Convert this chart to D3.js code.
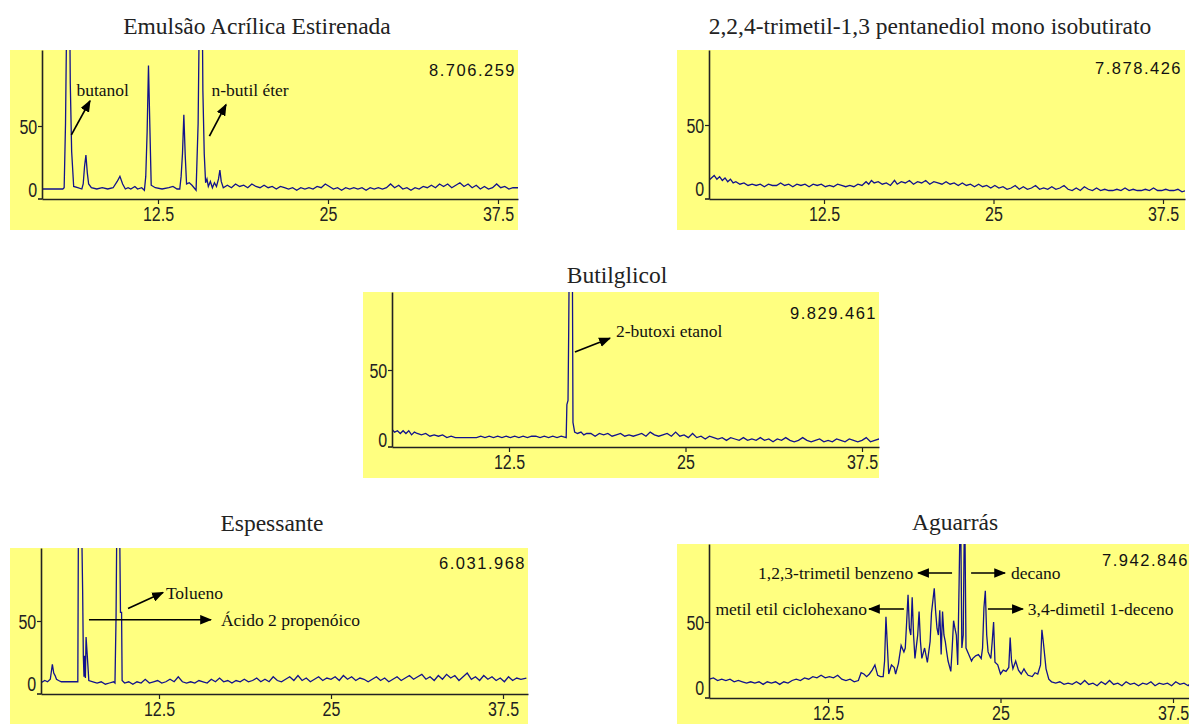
<!DOCTYPE html>
<html><head><meta charset="utf-8">
<script src="https://cdn.jsdelivr.net/npm/d3@7"></script>
<style>body{margin:0;background:#fff;} svg{display:block;}</style>
</head><body>
<svg id="c" width="1189" height="724"></svg>
<script>
// ---------- DATA ----------
const xTicks = [12.5, 25, 37.5];
const yTicks = [0, 50];
const titles = ["Emulsão Acrílica Estirenada", "2,2,4-trimetil-1,3 pentanediol mono isobutirato", "Butilglicol", "Espessante", "Aguarrás"];
const totals = ["8.706.259", "7.878.426", "9.829.461", "6.031.968", "7.942.846"];

// [retention time (min), relative abundance]
const emulsao = [[4.0,0],[4.5,0],[5.0,0],[5.5,0],[5.6,1],[5.7,52],[5.8,150],[6.0,150],[6.05,84],[6.15,30],[6.3,2],[6.6,1],[6.9,0],[7.0,4],[7.1,18],[7.2,27],[7.3,13],[7.4,4],[7.6,1],[8.0,0],[8.4,1],[8.8,0],[9.2,1],[9.5,6],[9.7,10],[9.9,4],[10.1,0],[10.3,1],[10.5,0],[10.8,2],[11.0,0],[11.3,1],[11.5,-1],[11.6,10],[11.7,45],[11.8,98],[11.9,50],[12.0,3],[12.3,1],[12.8,0],[13.3,1],[13.6,2],[13.9,0],[14.1,0],[14.2,10],[14.3,28],[14.4,59],[14.5,27],[14.6,4],[14.8,5],[15.0,3],[15.3,-1],[15.45,52],[15.55,150],[15.75,150],[15.8,78],[15.9,28],[16.0,5],[16.1,8],[16.2,2],[16.35,6],[16.5,1],[16.65,5],[16.8,2],[16.95,8],[17.05,15],[17.15,6],[17.3,1],[17.6,3],[17.9,1],[18.2,4],[18.5,2],[18.8,3],[19.1,1],[19.4,4],[19.7,2],[20.0,1],[20.3,3],[20.6,1],[20.9,2],[21.2,0],[21.5,2],[21.8,1],[22.1,0],[22.4,1],[22.7,-1],[23.0,1],[23.3,0],[23.6,1],[23.9,0],[24.2,2],[24.5,1],[24.8,4],[25.1,2],[25.4,0],[25.7,1],[26.0,-1],[26.3,1],[26.6,0],[26.9,1],[27.2,0],[27.5,1],[27.8,-1],[28.1,1],[28.4,0],[28.7,1],[29.0,0],[29.3,1],[29.6,4],[29.9,1],[30.2,3],[30.5,0],[30.8,1],[31.1,-1],[31.4,1],[31.7,0],[32.0,2],[32.3,1],[32.6,3],[32.9,1],[33.2,4],[33.5,2],[33.8,4],[34.1,1],[34.4,3],[34.7,5],[35.0,2],[35.3,4],[35.6,1],[35.9,3],[36.2,0],[36.5,2],[36.8,0],[37.1,1],[37.4,4],[37.7,1],[38.0,2],[38.3,0],[38.6,1],[39.1,1]];

const trimetil = [[4.0,6],[4.2,8],[4.4,10],[4.6,7],[4.8,9],[5.0,6],[5.2,8],[5.4,5],[5.6,7],[5.8,4],[6.0,5],[6.3,3],[6.6,4],[6.9,2],[7.2,3],[7.5,2],[7.8,3],[8.1,1],[8.4,3],[8.7,2],[9.0,2],[9.3,4],[9.6,2],[9.9,3],[10.2,1],[10.5,3],[10.8,2],[11.1,3],[11.4,1],[11.7,3],[12.0,2],[12.3,3],[12.6,1],[12.9,2],[13.2,1],[13.5,3],[13.8,2],[14.1,1],[14.4,2],[14.7,1],[15.0,3],[15.3,2],[15.6,5],[15.8,3],[16.0,6],[16.2,4],[16.5,5],[16.8,3],[17.1,4],[17.4,2],[17.7,6],[17.9,3],[18.2,5],[18.5,4],[18.8,6],[19.1,3],[19.4,5],[19.7,4],[20.0,6],[20.3,3],[20.6,5],[20.9,4],[21.2,3],[21.5,5],[21.8,3],[22.1,4],[22.4,2],[22.7,4],[23.0,2],[23.3,3],[23.6,1],[23.9,3],[24.2,1],[24.5,2],[24.8,0],[25.1,2],[25.4,0],[25.7,1],[26.0,-1],[26.3,0],[26.6,2],[26.9,-1],[27.2,1],[27.5,-1],[27.8,0],[28.1,2],[28.4,-1],[28.7,0],[29.0,-1],[29.3,1],[29.6,-1],[29.9,0],[30.2,2],[30.5,-1],[30.8,-2],[31.1,0],[31.4,-2],[31.7,1],[32.0,-1],[32.3,-2],[32.6,0],[32.9,-2],[33.2,-1],[33.5,-2],[33.8,-2],[34.1,-1],[34.4,-2],[34.7,0],[35.0,-2],[35.3,-1],[35.6,-2],[35.9,-2],[36.2,-1],[36.5,-2],[36.8,0],[37.1,-2],[37.4,-2],[37.7,-1],[38.0,-2],[38.3,-2],[38.6,-1],[38.9,-3],[39.2,-2]];

const butilglicol = [[4.0,5],[4.2,7],[4.4,5],[4.6,6],[4.8,4],[5.0,6],[5.2,4],[5.4,6],[5.6,3],[5.8,5],[6.0,4],[6.3,3],[6.6,4],[6.9,2],[7.2,3],[7.5,2],[7.8,3],[8.1,1],[8.4,2],[8.7,1],[9.0,1],[9.3,1],[9.6,1],[9.9,1],[10.2,1],[10.5,2],[10.8,1],[11.1,2],[11.4,1],[11.7,2],[12.0,1],[12.3,2],[12.6,1],[12.9,2],[13.2,1],[13.5,2],[13.8,1],[14.1,2],[14.4,2],[14.7,1],[15.0,2],[15.3,1],[15.6,2],[15.9,1],[16.2,2],[16.55,1],[16.6,25],[16.68,28],[16.73,80],[16.78,150],[16.98,150],[17.03,12],[17.15,5],[17.35,4],[17.6,5],[17.8,3],[18.0,4],[18.3,4],[18.6,2],[18.9,4],[19.2,3],[19.5,4],[19.8,2],[20.1,3],[20.4,4],[20.7,2],[21.0,3],[21.3,2],[21.6,3],[21.9,4],[22.2,2],[22.5,5],[22.8,3],[23.1,2],[23.4,3],[23.7,4],[24.0,2],[24.3,5],[24.6,2],[24.9,3],[25.2,1],[25.5,4],[25.8,1],[26.1,2],[26.4,0],[26.7,2],[27.0,1],[27.3,0],[27.6,1],[27.9,-1],[28.2,1],[28.5,0],[28.8,-1],[29.1,1],[29.4,-1],[29.7,0],[30.0,-1],[30.3,1],[30.6,-1],[30.9,0],[31.2,-2],[31.5,0],[31.8,-1],[32.1,1],[32.4,-1],[32.7,-2],[33.0,-1],[33.3,1],[33.6,-1],[33.9,-2],[34.2,-1],[34.5,0],[34.8,-2],[35.1,-1],[35.4,-2],[35.7,0],[36.0,-1],[36.3,-2],[36.6,0],[36.9,-1],[37.2,-2],[37.5,-1],[37.8,1],[38.1,-2],[38.4,-1],[38.7,0],[39.2,-1]];

const espessante = [[3.9,0],[4.2,2],[4.4,1],[4.6,3],[4.75,15],[4.85,8],[4.95,6],[5.05,3],[5.2,2],[5.4,1],[5.7,1],[6.0,1],[6.3,1],[6.6,1],[6.65,150],[6.85,150],[6.95,75],[7.0,22],[7.05,5],[7.1,22],[7.15,4],[7.2,37],[7.3,20],[7.4,2],[7.7,1],[8.0,0],[8.3,1],[8.6,-1],[8.9,0],[9.2,1],[9.3,0],[9.38,54],[9.45,150],[9.62,150],[9.7,57],[9.78,57],[9.82,2],[10.0,0],[10.3,1],[10.6,-1],[10.9,1],[11.2,0],[11.5,3],[11.8,0],[12.1,1],[12.4,2],[12.7,0],[13.0,1],[13.3,3],[13.6,1],[13.9,5],[14.2,1],[14.5,0],[14.8,1],[15.1,0],[15.4,2],[15.7,1],[16.0,0],[16.3,3],[16.6,1],[16.9,4],[17.2,1],[17.5,2],[17.8,0],[18.1,2],[18.4,1],[18.7,3],[19.0,1],[19.3,2],[19.6,4],[19.9,1],[20.2,3],[20.5,1],[20.8,5],[21.1,2],[21.4,1],[21.7,3],[22.0,5],[22.3,2],[22.6,6],[22.9,2],[23.2,4],[23.5,1],[23.8,3],[24.1,5],[24.4,2],[24.7,4],[25.0,3],[25.3,5],[25.6,2],[25.9,6],[26.2,3],[26.5,5],[26.8,2],[27.1,4],[27.4,3],[27.7,1],[28.0,3],[28.3,5],[28.6,2],[28.9,4],[29.2,1],[29.5,3],[29.8,5],[30.1,2],[30.4,4],[30.7,6],[31.0,3],[31.3,5],[31.6,7],[31.9,3],[32.2,5],[32.5,2],[32.8,6],[33.1,3],[33.4,7],[33.7,4],[34.0,6],[34.3,2],[34.6,5],[34.9,8],[35.2,3],[35.5,5],[35.8,2],[36.1,6],[36.4,3],[36.7,5],[37.0,2],[37.3,4],[37.6,1],[37.9,5],[38.2,2],[38.5,4],[38.8,3],[39.2,4]];

const aguarras = [[3.9,6],[4.2,7],[4.5,5],[4.8,6],[5.1,5],[5.4,6],[5.7,4],[6.0,5],[6.3,4],[6.6,3],[6.9,4],[7.2,3],[7.5,4],[7.8,2],[8.1,4],[8.4,3],[8.7,4],[9.0,2],[9.3,4],[9.6,3],[9.9,5],[10.2,6],[10.5,5],[10.8,7],[11.1,6],[11.4,8],[11.7,7],[12.0,9],[12.3,7],[12.6,8],[12.9,7],[13.2,9],[13.5,6],[13.8,5],[14.1,6],[14.4,4],[14.7,5],[14.9,11],[15.1,10],[15.3,8],[15.5,10],[15.7,13],[15.9,17],[16.1,9],[16.3,8],[16.5,8],[16.6,20],[16.7,54],[16.8,32],[16.9,10],[17.1,17],[17.3,15],[17.4,10],[17.6,18],[17.8,32],[18.0,27],[18.1,30],[18.2,50],[18.3,71],[18.4,45],[18.5,40],[18.6,69],[18.7,40],[18.8,22],[19.0,40],[19.1,58],[19.2,35],[19.3,22],[19.5,30],[19.7,19],[19.9,35],[20.0,57],[20.2,76],[20.3,58],[20.4,45],[20.5,40],[20.6,59],[20.7,25],[20.8,58],[20.9,40],[21.0,35],[21.1,27],[21.2,20],[21.4,12],[21.5,30],[21.6,51],[21.7,45],[21.8,40],[21.9,17],[22.0,80],[22.1,150],[22.2,30],[22.3,40],[22.4,150],[22.5,30],[22.7,25],[22.9,20],[23.0,22],[23.2,24],[23.4,25],[23.6,22],[23.7,30],[23.8,61],[23.9,74],[24.0,40],[24.1,27],[24.3,22],[24.4,35],[24.5,50],[24.6,19],[24.8,17],[25.0,10],[25.2,13],[25.4,12],[25.6,15],[25.7,38],[25.8,20],[25.9,14],[26.1,20],[26.3,13],[26.5,10],[26.7,14],[26.8,12],[27.0,9],[27.3,8],[27.5,11],[27.7,10],[27.9,17],[28.0,44],[28.1,35],[28.3,14],[28.5,6],[28.7,4],[29.0,3],[29.3,4],[29.6,2],[29.9,3],[30.2,2],[30.5,4],[30.8,2],[31.1,5],[31.4,2],[31.7,3],[32.0,1],[32.3,4],[32.6,2],[32.9,5],[33.2,2],[33.5,3],[33.8,1],[34.1,4],[34.4,2],[34.7,3],[35.0,1],[35.3,3],[35.6,2],[35.9,4],[36.2,1],[36.5,3],[36.8,2],[37.1,3],[37.4,1],[37.7,4],[38.0,2],[38.3,3],[38.6,1],[38.9,5],[39.4,2]];

const series = [emulsao, trimetil, butilglicol, espessante, aguarras];

// annotation labels per panel
const labels1 = ["butanol", "n-butil éter"];
const labels3 = ["2-butoxi etanol"];
const labels4 = ["Tolueno", "Ácido 2 propenóico"];
const labels5 = ["1,2,3-trimetil benzeno", "decano", "metil etil ciclohexano", "3,4-dimetil 1-deceno"];

// ---------- LAYOUT ----------
const layout = [
  {bg:[10,50,518,230], ax:42, right:518, xp:[158,498], yp:[189,126], xa:199, tx:257, ty:34, totX:516, totY:76},
  {bg:[677,50,1185,230], ax:709, right:1185, xp:[824,1163], yp:[188,125], xa:199, tx:930, ty:34, totX:1182, totY:74},
  {bg:[363,292,879,478], ax:392, right:879, xp:[509,862], yp:[439,370], xa:447, tx:617, ty:283, totX:877, totY:319},
  {bg:[10,548,528,724], ax:41, right:528, xp:[159,503], yp:[683,621], xa:694, tx:272, ty:531, totX:526, totY:569},
  {bg:[677,544,1189,724], ax:709, right:1189, xp:[828,1173], yp:[687,622], xa:698, tx:955, ty:530, totX:1189, totY:566}
];
// annotations in data coords: arrow [x1,y1,x2,y2], text [x,y,anchor]
const annots = [
  [ {a:[6.13,43,7.5,70], t:[6.5,79,"start"], s:labels1[0]},
    {a:[16.28,42,17.5,67], t:[16.43,79,"start"], s:labels1[1]} ],
  [],
  [ {a:[17.17,63,19.65,73], t:[20.08,78,"start"], s:labels3[0]} ],
  [ {a:[10.25,60,12.79,73], t:[13.0,73,"start"], s:labels4[0]},
    {a:[7.41,51,16.28,51], t:[17.0,51,"start"], s:labels4[1]} ],
  [ {a:[21.49,87.7,19.03,87.7], t:[18.67,87.7,"end"], s:labels5[0]},
    {a:[22.87,87.7,25.33,87.7], t:[25.76,87.7,"start"], s:labels5[1]},
    {a:[18.0,60,15.47,60], t:[15.33,60,"end"], s:labels5[2]},
    {a:[24.09,60,26.62,60], t:[26.98,60,"start"], s:labels5[3]} ]
];

const svg = d3.select("#c");
const defs = svg.append("defs");
defs.append("marker").attr("id","ah").attr("viewBox","0 0 10 8")
  .attr("refX",9).attr("refY",4).attr("markerWidth",12).attr("markerHeight",10)
  .attr("markerUnits","userSpaceOnUse").attr("orient","auto")
  .append("path").attr("d","M0,0 L10,4 L0,8 Z").attr("fill","#000");

const tickFont = "'Liberation Sans',Arial,sans-serif";
const serif = "'Liberation Serif','Times New Roman',serif";

layout.forEach((L, i) => {
  const g = svg.append("g");
  g.append("rect").attr("x",L.bg[0]).attr("y",L.bg[1]).attr("width",L.bg[2]-L.bg[0]).attr("height",L.bg[3]-L.bg[1]).attr("fill","#ffff80");
  const pxPerUnit = (L.xp[1]-L.xp[0])/25;
  const x = d3.scaleLinear().domain([12.5 + (L.ax-L.xp[0])/pxPerUnit, 12.5 + (L.right-L.xp[0])/pxPerUnit]).range([L.ax, L.right]);
  const pyPerUnit = (L.yp[0]-L.yp[1])/50;
  const y = d3.scaleLinear().domain([-(L.xa-L.yp[0])/pyPerUnit, (L.yp[0]-L.bg[1])/pyPerUnit]).range([L.xa, L.bg[1]]);

  const cid = "clip"+i;
  defs.append("clipPath").attr("id",cid).append("rect").attr("x",L.ax).attr("y",L.bg[1]).attr("width",L.right-L.ax).attr("height",L.xa-L.bg[1]);

  g.append("path").datum(series[i]).attr("clip-path",`url(#${cid})`)
    .attr("fill","none").attr("stroke","#12128c").attr("stroke-width",1.3).attr("stroke-linejoin","miter")
    .attr("d", d3.line().x(d=>x(d[0])).y(d=>y(d[1])));

  const xa = g.append("g").attr("transform",`translate(0,${L.xa})`)
    .call(d3.axisBottom(x).tickValues(xTicks).tickSize(5).tickSizeOuter(0).tickFormat(d=>String(d)));
  const ya = g.append("g").attr("transform",`translate(${L.ax},0)`)
    .call(d3.axisLeft(y).tickValues(yTicks).tickSize(4).tickSizeOuter(0).tickFormat(d=>String(d)));
  [xa, ya].forEach(a => {
    a.select(".domain").attr("stroke","#222").attr("stroke-width",1.6);
    a.selectAll(".tick line").attr("stroke","#222").attr("stroke-width",1.2);
    a.selectAll(".tick text").attr("fill","#222").style("font-family",tickFont).style("font-size","20px");
  });
  xa.selectAll(".tick text").attr("y",8).attr("transform","scale(0.8,1)");
  ya.selectAll(".tick text").attr("x",-6).attr("dy","0.36em").attr("transform","scale(0.8,1)");
  ya.selectAll(".tick").filter(d=>d===0).select("line").attr("stroke-opacity",0);
  g.append("line").attr("x1",L.ax-4).attr("x2",L.ax).attr("y1",L.xa).attr("y2",L.xa).attr("stroke","#222").attr("stroke-width",1.6);

  svg.append("text").attr("x",L.tx).attr("y",L.ty).attr("text-anchor","middle")
    .style("font-family",serif).style("font-size","23.5px").attr("fill","#222").text(titles[i]);
  g.append("text").attr("x",L.totX).attr("y",L.totY).attr("text-anchor","end")
    .style("font-family","'Liberation Sans',Arial,sans-serif").style("font-size","16.5px").style("letter-spacing","1.5px")
    .attr("fill","#111").text(totals[i]);

  annots[i].forEach(A => {
    g.append("line").attr("x1",x(A.a[0])).attr("y1",y(A.a[1])).attr("x2",x(A.a[2])).attr("y2",y(A.a[3]))
      .attr("stroke","#000").attr("stroke-width",1.7).attr("marker-end","url(#ah)");
    g.append("text").attr("x",x(A.t[0])).attr("y",y(A.t[1])).attr("dy","0.35em").attr("text-anchor",A.t[2])
      .style("font-family",serif).style("font-size","17.5px").attr("fill","#111").text(A.s);
  });
});
</script>
</body></html>
